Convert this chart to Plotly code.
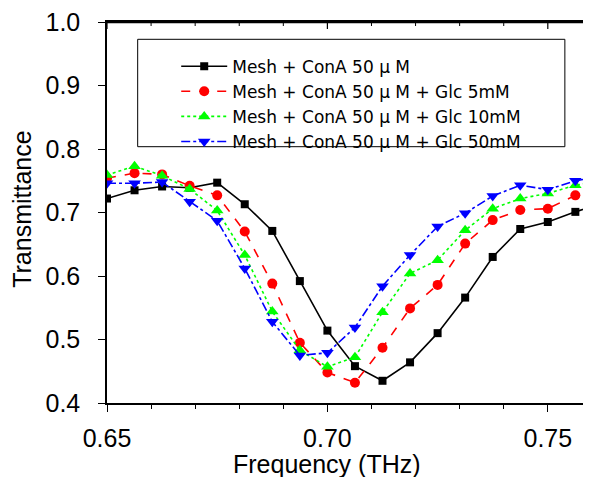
import plotly.graph_objects as go

freq = [0.65, 0.65625, 0.6625, 0.66875, 0.675, 0.68125, 0.6875, 0.69375, 0.7,
        0.70625, 0.7125, 0.71875, 0.725, 0.73125, 0.7375, 0.74375, 0.75, 0.75625, 0.7625]

conA = [0.722, 0.735, 0.741, 0.739, 0.747, 0.713, 0.671, 0.592, 0.514,
        0.458, 0.435, 0.464, 0.510, 0.566, 0.630, 0.674, 0.685, 0.701, 0.715]
glc5 = [0.754, 0.762, 0.760, 0.742, 0.727, 0.670, 0.588, 0.495, 0.448,
        0.432, 0.487, 0.549, 0.586, 0.651, 0.688, 0.704, 0.706, 0.727, 0.740]
glc10 = [0.759, 0.773, 0.758, 0.737, 0.703, 0.633, 0.544, 0.483, 0.457,
         0.472, 0.543, 0.604, 0.625, 0.672, 0.706, 0.722, 0.730, 0.743, 0.750]
glc50 = [0.746, 0.746, 0.748, 0.717, 0.687, 0.612, 0.528, 0.475, 0.479,
         0.519, 0.584, 0.633, 0.678, 0.699, 0.726, 0.743, 0.736, 0.750, 0.757]

names = ["Mesh + ConA 50 μ M",
         "Mesh + ConA 50 μ M + Glc 5mM",
         "Mesh + ConA 50 μ M + Glc 10mM",
         "Mesh + ConA 50 μ M + Glc 50mM"]

x_ticks = [0.65, 0.70, 0.75]
x_ticklabels = ["0.65", "0.70", "0.75"]
y_ticks = [0.4, 0.5, 0.6, 0.7, 0.8, 0.9, 1.0]
y_ticklabels = ["0.4", "0.5", "0.6", "0.7", "0.8", "0.9", "1.0"]
top_major = [0.65, 0.70, 0.75]
top_minor = [0.66, 0.67, 0.68, 0.69, 0.71, 0.72, 0.73, 0.74]

FONT = "Liberation Sans, Arial, sans-serif"
LEGEND_FONT = "DejaVu Sans, sans-serif"

styles = [
    dict(color="#000000", dash="solid", symbol="square", size=8),
    dict(color="#ff0000", dash="dash", symbol="circle", size=10),
    dict(color="#00ff00", dash="dot", symbol="triangle-up", size=11),
    dict(color="#0000ff", dash="dashdot", symbol="triangle-down", size=11),
]

fig = go.Figure()
for ys, name, st in zip([conA, glc5, glc10, glc50], names, styles):
    fig.add_trace(go.Scatter(
        x=freq, y=ys, name=name, mode="lines+markers",
        line=dict(color=st["color"], dash=st["dash"], width=1.6),
        marker=dict(color=st["color"], symbol=st["symbol"], size=st["size"]),
        cliponaxis=True,
    ))

PLOT_H = 381.0
frame_shapes = [
    dict(type="rect", xref="paper", yref="paper",
         x0=0.0634, x1=0.946, y0=0.6727, y1=0.9546,
         line=dict(color="black", width=1), fillcolor="rgba(0,0,0,0)"),
    dict(type="line", xref="paper", yref="paper", x0=0, x1=1, y0=0.999, y1=0.999,
         line=dict(color="black", width=1.5), layer="above"),
]
for t in top_major:
    frame_shapes.append(dict(type="line", xref="x", yref="paper", x0=t, x1=t,
                             y0=1, y1=1 - 7 / PLOT_H, line=dict(color="black", width=1.2)))
for t in top_minor:
    frame_shapes.append(dict(type="line", xref="x", yref="paper", x0=t, x1=t,
                             y0=1, y1=1 - 4 / PLOT_H, line=dict(color="black", width=1)))

# the page body has an 8px default margin, so the figure is 8px smaller
fig.update_layout(
    width=583, height=469,
    margin=dict(l=99, r=0, t=14, b=74, autoexpand=False),
    paper_bgcolor="white", plot_bgcolor="white",
    font=dict(family=FONT, color="black"),
    showlegend=True,
    legend=dict(
        x=0.143, y=0.930, xanchor="left", yanchor="top",
        bgcolor="rgba(0,0,0,0)", borderwidth=0,
        font=dict(size=17, family=LEGEND_FONT),
        itemwidth=46, tracegroupgap=0,
    ),
    xaxis=dict(
        range=[0.65, 0.7598], showgrid=False, zeroline=False,
        showline=True, linecolor="black", linewidth=1.5, mirror=True,
        tickmode="array", tickvals=x_ticks, ticktext=x_ticklabels,
        ticks="outside", ticklen=7, tickwidth=1.2, tickcolor="black",
        tickfont=dict(size=25), ticklabelstandoff=5, ticklabeloverflow="allow",
        minor=dict(dtick=0.01, tick0=0.65, ticks="outside", ticklen=4, tickwidth=1, tickcolor="black"),
    ),
    yaxis=dict(
        range=[0.4, 1.0], showgrid=False, zeroline=False,
        showline=True, linecolor="black", linewidth=1.5,
        tickmode="array", tickvals=y_ticks, ticktext=y_ticklabels,
        ticks="outside", ticklen=7, tickwidth=1.2, tickcolor="black",
        tickfont=dict(size=25), ticklabelstandoff=13, ticklabeloverflow="allow",
    ),
    shapes=frame_shapes,
    annotations=[
        dict(text="Frequency (THz)", xref="x", yref="paper", x=0.7, y=0,
             yshift=-61, showarrow=False, font=dict(size=25), xanchor="center", yanchor="middle"),
        dict(text="Transmittance", xref="paper", yref="paper", x=0, y=0.507,
             xshift=-85, showarrow=False, textangle=-90, font=dict(size=25),
             xanchor="center", yanchor="middle"),
    ],
)

fig.write_html("out.html")
